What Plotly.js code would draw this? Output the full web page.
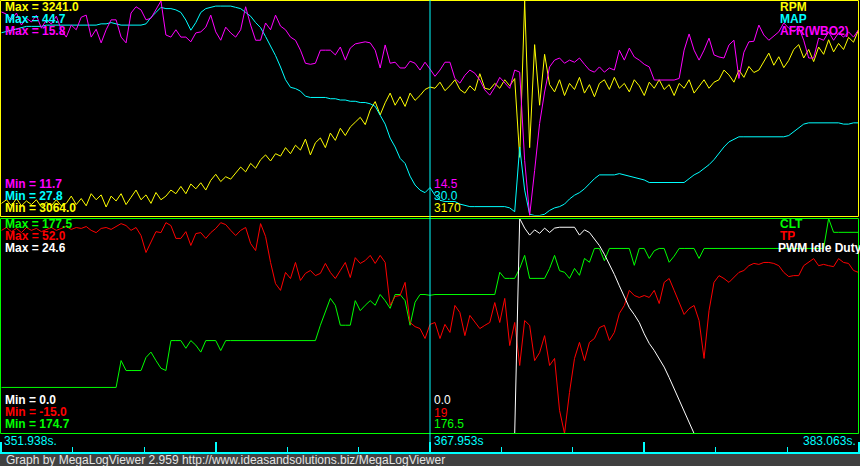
<!DOCTYPE html>
<html>
<head>
<meta charset="utf-8">
<script src="https://cdn.plot.ly/plotly-3.0.1.min.js"></script>
<style>
html,body{margin:0;padding:0;background:#000;overflow:hidden}
#chart{width:860px;height:466px}
</style>
</head>
<body>
<div id="chart"></div>
<script>
// ---- time base ----
const startTime = 351.938;
const cursorTime = 367.953;
const endTimeLabel = 383.063;
const sampleStep = 0.18622; // seconds per log record

// ---- series names ----
const topNames = ['RPM', 'MAP', 'AFR(WBO2)'];
const bottomNames = ['CLT', 'TP', 'PWM Idle Duty'];

// ---- displayed min / max of each series ----
const rpmRange = [3064.0, 3241.0];
const mapRange = [27.8, 44.7];
const afrRange = [11.7, 15.8];
const cltRange = [174.7, 177.5];
const tpRange = [-15.0, 52.0];
const pwmRange = [0.0, 24.6];

// ---- logged values ----
const rpm = [
3074,3077,3072,3078,3072,3076,3073,3077,3071,3075,
3072,3077,3072,3074,3080,3073,3078,3072,3082,3077,
3081,3071,3080,3076,3082,3073,3079,3085,3077,3081,
3074,3083,3077,3080,3085,3082,3088,3082,3090,3086,
3091,3085,3093,3098,3092,3096,3094,3099,3104,3100,
3107,3103,3110,3114,3109,3115,3113,3120,3115,3122,
3118,3127,3114,3124,3128,3120,3132,3126,3136,3130,
3137,3141,3145,3139,3151,3158,3147,3157,3165,3155,
3162,3154,3165,3159,3163,3168,3170,3169,3174,3167,
3171,3176,3168,3165,3171,3167,3181,3169,3168,3173,
3169,3176,3171,3177,3112,3241,3120,3205,3155,3197,
3172,3166,3176,3163,3173,3168,3178,3165,3172,3162,
3173,3176,3168,3178,3169,3173,3166,3176,3171,3163,
3174,3169,3176,3168,3172,3163,3173,3169,3176,3165,
3171,3176,3169,3174,3176,3184,3180,3174,3184,3178,
3187,3182,3184,3191,3198,3188,3195,3186,3192,3201,
3205,3194,3201,3191,3203,3197,3209,3199,3206,3201,
3211,3207,3217
];
const map = [
42.2,42.3,42.4,42.5,42.6,42.7,42.7,42.7,42.7,42.8,
42.8,42.8,42.8,42.8,42.8,42.8,42.8,42.8,42.8,42.8,
42.9,42.9,43.0,42.9,42.8,42.8,42.8,42.8,42.8,42.9,
43.4,43.8,44.2,44.1,44.1,44.0,43.8,43.2,42.4,43.0,
43.8,44.1,44.2,44.3,44.3,44.3,44.3,44.2,44.1,43.8,
43.5,43.0,42.6,41.9,41.2,40.4,39.5,38.5,37.9,37.8,
37.6,37.2,37.1,37.1,37.1,37.1,37.0,37.0,36.9,36.9,
36.8,36.8,36.7,36.7,36.6,36.4,35.7,35.0,33.9,33.2,
32.3,31.9,30.9,30.2,29.8,29.6,30.0,29.4,29.0,28.9,
28.9,28.9,28.7,28.6,28.5,28.5,28.5,28.5,28.5,28.5,
28.5,28.5,28.4,28.1,33.2,29.8,27.9,27.8,27.8,27.9,
28.2,28.4,28.5,28.7,29.1,29.4,29.6,29.9,30.3,30.7,
31.0,31.0,31.0,31.0,31.1,31.0,30.9,30.8,30.7,30.6,
30.4,30.4,30.4,30.4,30.4,30.4,30.4,30.4,30.7,31.0,
31.2,31.5,31.8,32.2,32.7,33.2,33.6,33.8,34.0,34.0,
34.0,34.0,34.0,34.0,34.0,34.0,34.0,34.0,34.1,34.4,
34.7,35.0,35.1,35.1,35.1,35.1,35.1,35.1,35.1,35.0,
35.0,35.1,35.1
];
const afr = [
15.59,15.55,15.44,15.57,15.34,15.47,15.40,15.53,15.28,15.44,
15.36,15.51,15.25,15.11,15.34,15.25,15.49,15.53,15.11,15.26,
15.00,15.25,15.44,15.44,15.11,15.00,15.57,15.69,15.63,15.44,
15.47,15.63,15.80,15.15,15.11,15.25,15.11,15.11,15.02,15.19,
15.21,15.30,15.53,15.21,15.05,15.30,15.19,15.11,15.25,15.69,
15.34,15.05,15.05,15.38,15.25,15.53,15.32,15.25,15.11,15.05,
14.86,14.61,14.59,14.61,14.86,14.86,14.86,14.77,14.92,14.67,
14.90,14.98,15.00,15.02,15.00,14.86,14.52,14.96,14.61,14.63,
14.52,14.52,14.65,14.61,14.48,14.63,14.50,14.36,14.48,14.63,
14.63,14.32,14.23,14.38,14.48,14.42,14.29,14.10,14.00,14.15,
14.34,14.23,14.13,14.48,14.44,12.75,11.70,12.56,13.46,14.06,
14.54,14.67,14.71,14.61,14.67,14.63,14.71,14.59,14.48,14.44,
14.54,14.44,14.52,14.48,14.86,14.67,14.90,14.73,14.67,14.59,
14.54,14.29,14.29,14.29,14.29,14.29,14.32,14.86,15.17,14.86,
14.67,14.86,15.09,14.77,14.73,14.71,14.96,15.05,14.32,14.82,
15.02,15.03,15.34,15.15,15.05,15.13,15.21,15.38,15.28,15.21,
15.30,15.05,14.71,14.71,15.09,15.05,15.21,15.05,15.19,15.11,
15.21,15.11,15.25
];
const clt = [
175.30,175.30,175.30,175.30,175.30,175.30,175.30,175.30,175.30,175.30,
175.30,175.30,175.30,175.30,175.30,175.30,175.30,175.30,175.30,175.30,
175.30,175.30,175.30,175.30,175.65,175.52,175.52,175.52,175.52,175.69,
175.76,175.65,175.55,175.52,175.91,175.91,175.91,175.81,175.91,175.85,
175.76,175.91,175.91,175.91,175.78,175.91,175.91,175.91,175.91,175.91,
175.91,175.91,175.91,175.91,175.91,175.91,175.91,175.91,175.91,175.91,
175.91,175.91,175.91,175.91,176.11,176.28,176.46,176.37,176.11,176.11,
176.11,176.43,176.30,176.37,176.43,176.37,176.51,176.43,176.33,176.51,
176.51,176.43,176.11,176.41,176.51,176.51,176.50,176.51,176.51,176.51,
176.51,176.51,176.51,176.51,176.51,176.51,176.51,176.51,176.51,176.51,
176.80,176.72,176.72,176.72,176.85,177.02,176.72,176.72,176.72,176.72,
176.85,177.02,176.82,176.80,176.72,176.85,176.76,176.98,176.93,177.11,
177.11,176.95,177.11,177.11,177.11,177.11,177.11,176.89,177.11,177.11,
176.98,177.08,177.11,177.11,176.93,177.01,177.11,177.11,177.11,177.11,
176.98,177.11,177.11,177.11,177.11,177.11,177.11,177.11,177.11,177.11,
177.11,177.11,177.11,177.11,177.11,177.11,177.11,177.11,177.11,177.11,
177.11,177.11,177.11,177.11,177.11,177.11,177.50,177.32,177.32,177.32,
177.32,177.32,177.32
];
const tp = [
48.3,49.2,47.9,48.9,47.6,49.2,48.3,48.9,47.9,48.6,
49.2,48.3,48.9,49.5,48.6,49.2,48.9,49.5,48.3,47.6,
48.9,49.2,48.6,49.5,50.4,49.8,48.3,49.2,46.7,41.4,
44.5,47.9,47.6,50.7,49.8,45.8,45.8,47.9,43.6,47.3,
47.6,45.8,47.6,48.9,50.7,50.1,48.3,46.7,48.3,49.2,
44.2,42.0,50.4,46.4,38.3,31.7,29.6,35.2,33.3,38.3,
32.7,34.9,35.8,34.2,34.9,38.0,35.2,33.3,35.8,38.3,
33.6,39.8,38.0,38.9,40.5,38.0,40.5,38.3,24.9,27.7,
28.0,32.1,19.6,18.3,17.7,14.6,19.0,19.6,14.6,19.0,
16.5,24.9,22.7,15.5,21.8,19.6,17.7,18.7,19.6,25.8,
19.6,27.1,12.4,19.6,6.2,20.2,18.7,7.7,10.2,15.5,
6.2,8.4,-7.8,-15.0,-2.2,8.4,13.4,7.7,13.4,14.6,
18.0,18.7,14.0,16.5,22.4,24.9,29.6,28.0,27.4,28.0,
27.4,29.6,25.5,32.1,33.3,29.6,25.8,22.1,23.9,24.9,
20.2,8.4,23.3,32.1,34.2,33.3,32.1,33.6,35.2,35.8,
37.3,38.0,37.7,38.3,38.3,38.0,37.3,35.2,33.9,34.2,
34.2,37.3,38.3,39.5,37.3,37.7,37.3,37.0,39.5,38.3,
38.0,35.8,35.2
];
const pwm = [
0,0,0,0,0,0,0,0,0,0,
0,0,0,0,0,0,0,0,0,0,
0,0,0,0,0,0,0,0,0,0,
0,0,0,0,0,0,0,0,0,0,
0,0,0,0,0,0,0,0,0,0,
0,0,0,0,0,0,0,0,0,0,
0,0,0,0,0,0,0,0,0,0,
0,0,0,0,0,0,0,0,0,0,
0,0,0,0,0,0,0,0,0,0,
0,0,0,0,0,0,0,0,0,0,
0,0,0,0,24.6,23.5,22.7,23.3,22.9,23.5,
23.0,23.5,23.6,23.6,23.6,23.6,22.7,23.3,23.0,22.3,
21.5,20.5,19.4,18.2,16.9,15.6,14.4,13.6,12.7,11.4,
10.3,9.5,8.6,7.6,6.4,5.1,4.0,2.6,1.3,0,
0,0,0,0,0,0,0,0,0,0,
0,0,0,0,0,0,0,0,0,0,
0,0,0,0,0,0,0,0,0,0,
0,0,0
];

// ---- colours ----
const YEL = '#ffff00', CYA = '#00ffff', MAG = '#ff00ff';
const GRN = '#00ff00', RED = '#ff0000', WHT = '#ffffff';

const W = 860, H = 466;
const px = v => v / W;          // pixel -> paper x
const py = v => 1 - v / H;      // pixel -> paper y

const time = rpm.map((_, i) => startTime + i * sampleStep);
const tEnd = time[time.length - 1];
const span = tEnd - startTime;
const edge = span / W * 1.5;    // keep the end ticks inside the strip

let ci = 0;
time.forEach((t, i) => { if (Math.abs(t - cursorTime) < Math.abs(time[ci] - cursorTime)) ci = i; });

function line(y, axis, color) {
  return {x: time, y: y, yaxis: axis, xaxis: 'x', type: 'scatter', mode: 'lines',
          line: {color: color, width: 1}, hoverinfo: 'skip'};
}
const traces = [
  line(rpm, 'y', YEL), line(map, 'y2', CYA), line(afr, 'y3', MAG),
  line(clt, 'y4', GRN), line(tp, 'y5', RED), line(pwm, 'y6', WHT)
];

const FONT = 'Liberation Sans, Arial, sans-serif';
function note(text, x, y, color, anchor, h) {
  const a = {text: text, xref: 'paper', yref: 'paper', x: px(x), y: py(y),
          xanchor: anchor || 'left', yanchor: 'middle', showarrow: false,
          borderpad: 0, font: {family: FONT, size: 12, color: color}};
  if (h) { a.height = h; a.valign = 'middle'; }
  return a;
}
const b = s => '<b>' + s + '</b>';
const annotations = [
  note(b('Max = ' + rpmRange[1].toFixed(1)), 4, 7, YEL, 'left', 12),
  note(b('Max = ' + mapRange[1].toFixed(1)), 4, 19, CYA, 'left', 12),
  note(b('Max = ' + afrRange[1].toFixed(1)), 4, 31.5, MAG, 'left', 12),
  note(b('Min = ' + afrRange[0].toFixed(1)), 4, 183.5, MAG, 'left', 12),
  note(b('Min = ' + mapRange[0].toFixed(1)), 4, 195.5, CYA, 'left', 12),
  note(b('Min = ' + rpmRange[0].toFixed(1)), 4, 207.5, YEL, 'left', 12),
  note(b('Max = ' + cltRange[1].toFixed(1)), 4, 224, GRN, 'left', 12),
  note(b('Max = ' + tpRange[1].toFixed(1)), 4, 236, RED, 'left', 12),
  note(b('Max = ' + pwmRange[1].toFixed(1)), 4, 248, WHT, 'left', 12),
  note(b('Min = ' + pwmRange[0].toFixed(1)), 4, 400, WHT, 'left', 12),
  note(b('Min = ' + tpRange[0].toFixed(1)), 4, 412, RED, 'left', 12),
  note(b('Min = ' + cltRange[0].toFixed(1)), 4, 424, GRN, 'left', 12),
  note(b(topNames[0]), 779, 7, YEL, 'left', 12),
  note(b(topNames[1]), 779, 19, CYA, 'left', 12),
  note(b(topNames[2]), 779, 31.5, MAG, 'left', 12),
  note(b(bottomNames[0]), 779, 224, GRN, 'left', 12),
  note(b(bottomNames[1]), 779, 236, RED, 'left', 12),
  note(b(bottomNames[2]), 777, 248.5, WHT, 'left', 12),
  note(afr[ci].toFixed(1), 433, 183.5, MAG, 'left', 12),
  note(map[ci].toFixed(1), 433, 196, CYA, 'left', 12),
  note(rpm[ci].toFixed(0), 433, 207.5, YEL, 'left', 12),
  note(pwm[ci].toFixed(1), 433, 400, WHT, 'left', 12),
  note(tp[ci].toFixed(0), 433, 412.5, RED, 'left', 12),
  note(clt[ci].toFixed(1), 433, 424, GRN, 'left', 12),
  note(startTime.toFixed(3) + 's.', 3, 441, CYA),
  note(cursorTime.toFixed(3) + 's', 433, 441, CYA),
  note(endTimeLabel.toFixed(3) + 's.', 857, 441, CYA, 'right'),
  note('Graph by MegaLogViewer 2.959 http://www.ideasandsolutions.biz/MegaLogViewer', 5, 460, '#e4e4e4')
];

const shapes = [
  {type: 'rect', xref: 'paper', yref: 'paper', x0: 0, x1: 1, y0: 0, y1: py(454),
   fillcolor: '#404040', line: {width: 0}, layer: 'below'},
  {type: 'rect', xref: 'paper', yref: 'paper', x0: px(0.5), x1: px(858.5), y0: py(216.5), y1: py(0.5),
   line: {color: YEL, width: 1}, fillcolor: 'rgba(0,0,0,0)', layer: 'above'},
  {type: 'rect', xref: 'paper', yref: 'paper', x0: px(0.5), x1: px(858.5), y0: py(433.5), y1: py(218.5),
   line: {color: GRN, width: 1}, fillcolor: 'rgba(0,0,0,0)', layer: 'above'},
  {type: 'line', xref: 'x', yref: 'paper', x0: cursorTime, x1: cursorTime, y0: py(453), y1: 1,
   line: {color: CYA, width: 1}, layer: 'above'}
];

const hidden = {visible: false, fixedrange: true};
const layout = {
  width: W, height: H,
  margin: {l: 0, r: 0, t: 0, b: 0, pad: 0},
  paper_bgcolor: '#000000', plot_bgcolor: 'rgba(0,0,0,0)',
  showlegend: false, hovermode: false,
  xaxis: {
    domain: [0, 1], range: [startTime - edge, tEnd + edge], anchor: 'free', position: py(453),
    showline: true, linecolor: CYA, linewidth: 2,
    showgrid: false, zeroline: false, showticklabels: false,
    ticks: 'inside', tickmode: 'linear', tick0: startTime, dtick: span / 4,
    ticklen: 10, tickwidth: 2, tickcolor: CYA,
    minor: {ticks: 'inside', tickmode: 'linear', tick0: startTime, dtick: span / 12,
            ticklen: 5, tickwidth: 1, tickcolor: CYA, showgrid: false},
    fixedrange: true
  },
  yaxis: Object.assign({domain: [py(215.5), py(1)], range: rpmRange}, hidden),
  yaxis2: Object.assign({overlaying: 'y', range: mapRange}, hidden),
  yaxis3: Object.assign({overlaying: 'y', range: afrRange}, hidden),
  yaxis4: Object.assign({domain: [py(433.5), py(218.5)], range: cltRange}, hidden),
  yaxis5: Object.assign({overlaying: 'y4', range: tpRange}, hidden),
  yaxis6: Object.assign({overlaying: 'y4', range: pwmRange}, hidden),
  shapes: shapes,
  annotations: annotations
};

Plotly.newPlot('chart', traces, layout, {staticPlot: true, displayModeBar: false});
</script>
</body>
</html>
